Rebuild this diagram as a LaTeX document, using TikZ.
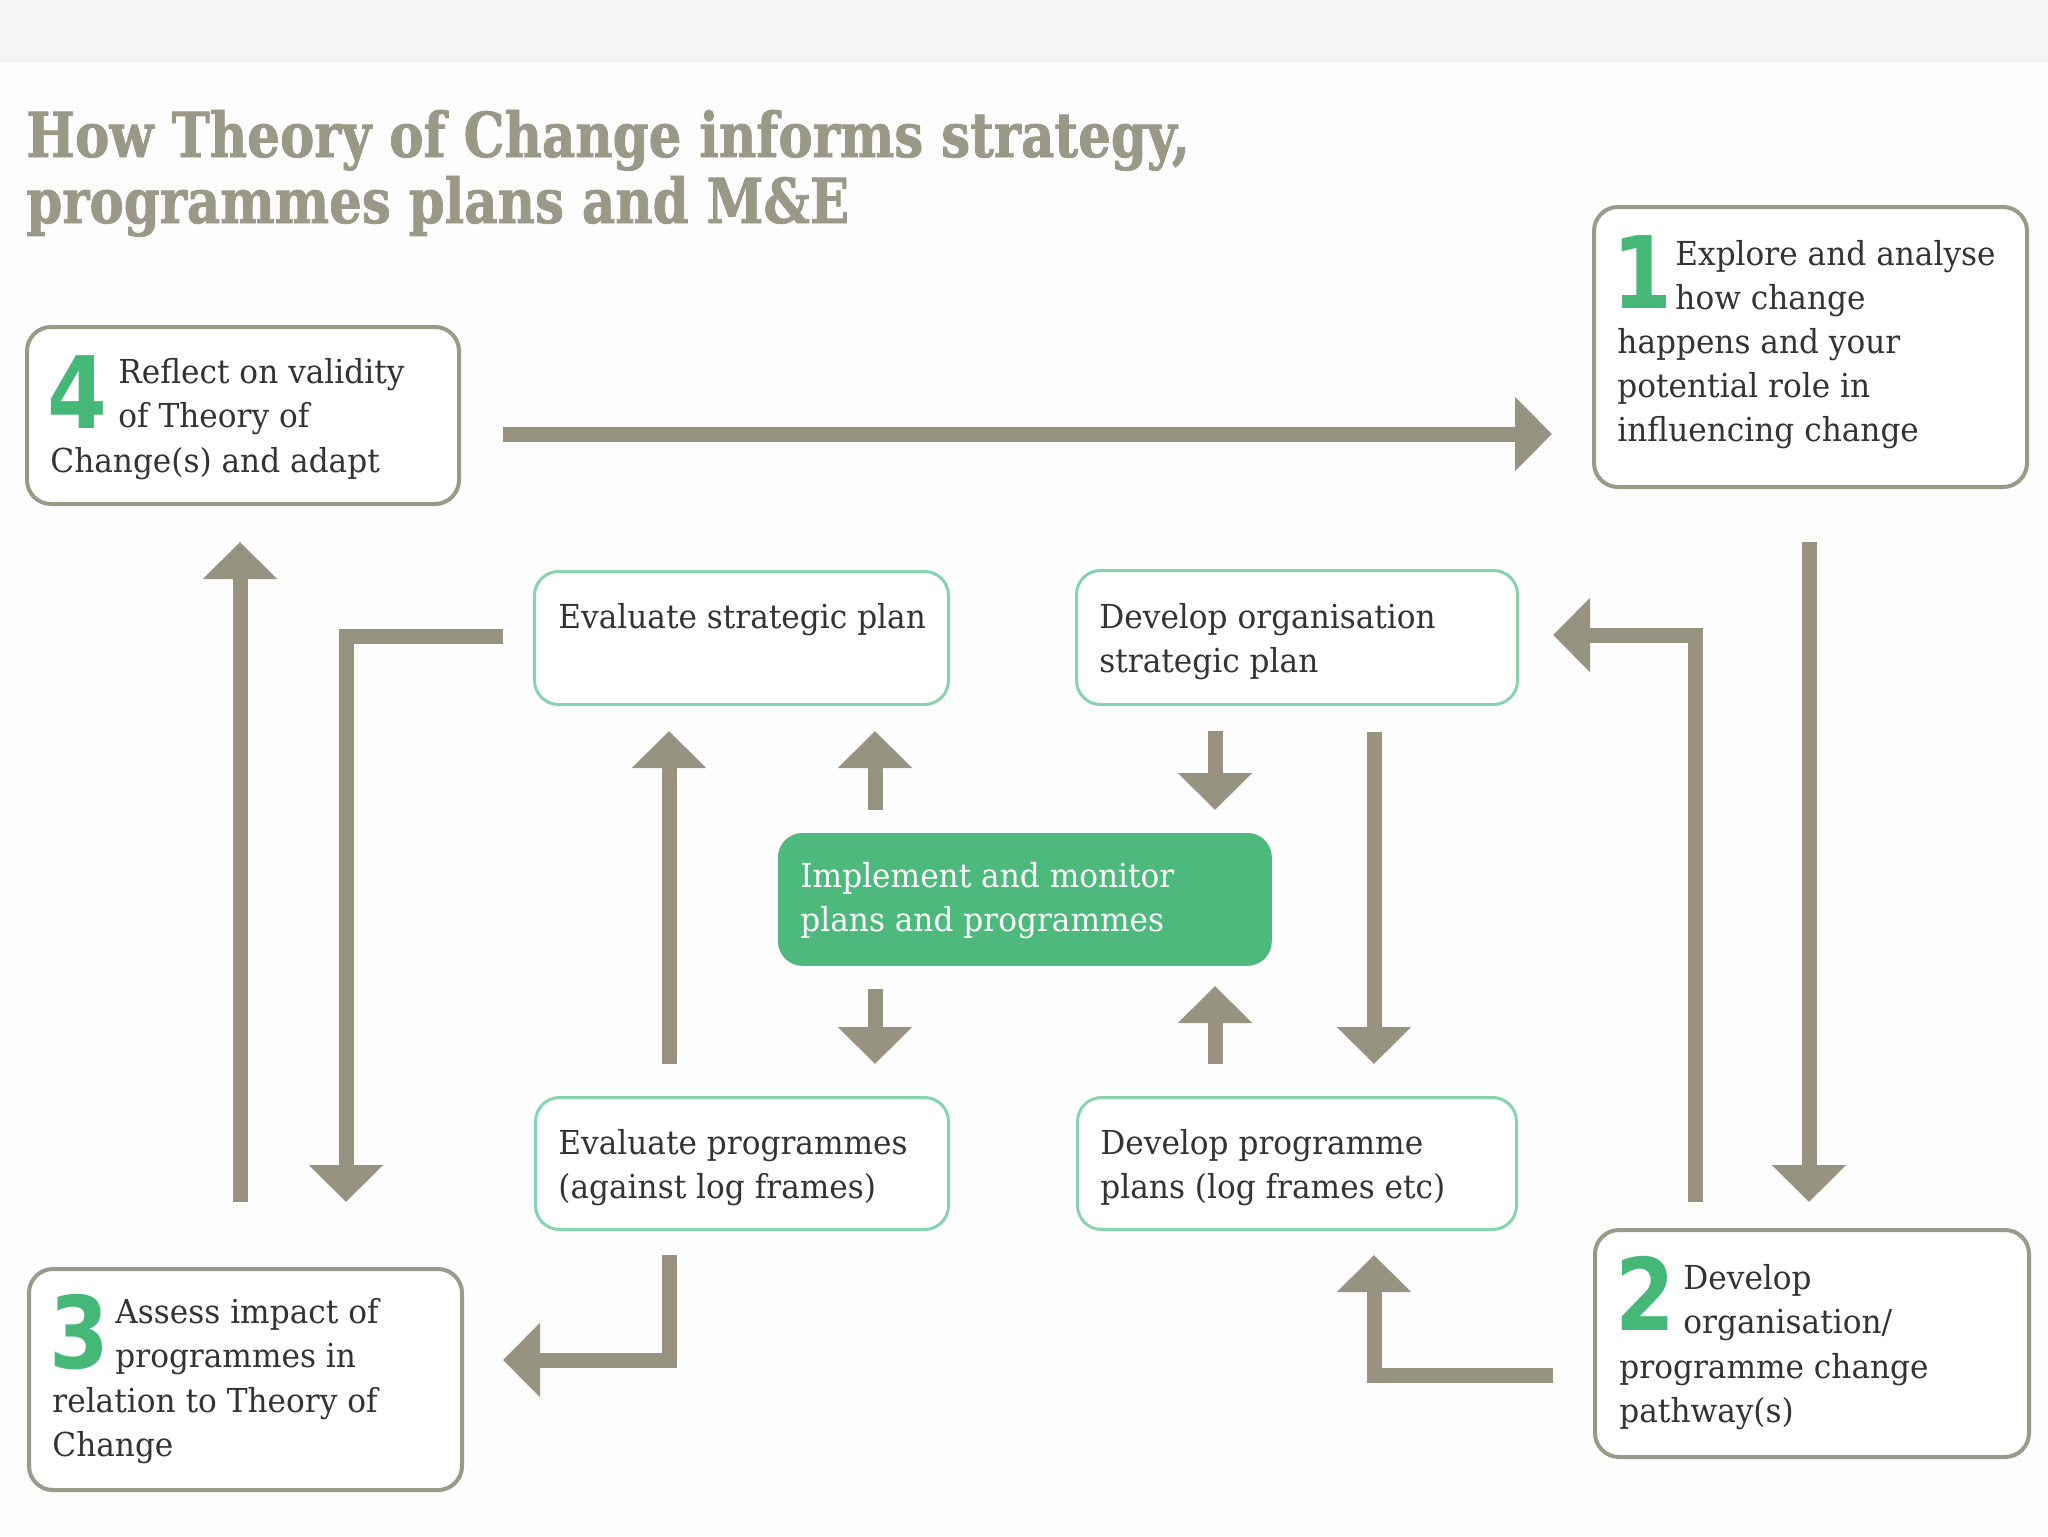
\documentclass[tikz,border=0pt]{standalone}
\usepackage{fontspec}
\setmainfont{DejaVu Serif}[FakeStretch=0.945]
\newfontfamily\titlefont{DejaVu Serif}[FakeStretch=0.83, FakeBold=1.2]
\newfontfamily\digitfont{DejaVu Sans}[FakeStretch=0.86]
\usetikzlibrary{arrows.meta}
\definecolor{arrowc}{HTML}{969380}
\definecolor{titlec}{HTML}{9A9886}
\definecolor{cornerc}{HTML}{9A9A88}
\definecolor{midc}{HTML}{86D3AE}
\definecolor{greenfill}{HTML}{4DB97C}
\definecolor{digitc}{HTML}{45B878}
\definecolor{textc}{HTML}{333333}
\definecolor{topc}{HTML}{F5F5F5}
\definecolor{bgc}{HTML}{FDFDFD}
\newcommand{\mylines}[1]{\begin{tabular}[t]{@{}l@{}}#1\end{tabular}}
\tikzset{
  corner/.style={draw=cornerc, line width=2pt, rounded corners=12pt, fill=white, inner sep=0pt, anchor=north west},
  mid/.style={draw=midc, line width=1.5pt, rounded corners=12pt, fill=white, inner sep=0pt, anchor=north west},
  midgreen/.style={draw=greenfill, fill=greenfill, rounded corners=12pt, inner sep=0pt, anchor=north west},
  body/.style={anchor=base west, inner sep=0pt, font=\fontsize{16.5}{22}\selectfont, text=textc},
  digit/.style={anchor=base west, inner sep=0pt, font=\digitfont\bfseries\fontsize{50}{50}\selectfont, text=digitc},
  flow/.style={draw=arrowc, line width=7.5pt, -{Triangle[length=18.5pt,width=36pt]}, line join=miter},
}
\begin{document}
\begin{tikzpicture}[x=0.5pt,y=-0.5pt]
\useasboundingbox (0,0) rectangle (2048,1536);
\fill[bgc] (0,0) rectangle (2048,1536);
\fill[topc] (0,0) rectangle (2048,63);

% title
\node[anchor=base west, inner sep=0pt, font=\titlefont\bfseries\fontsize{31}{31.5}\selectfont, text=titlec] (title) at (26,157) {\mylines{How Theory of Change informs strategy,\\programmes plans and M\&E}};

% corner boxes
\node[corner, minimum width=216pt, minimum height=88.5pt] (b4) at (25,325) {};
\node[digit] (d4) at (47,428) {4};
\node[body] (t4) at (118,383) {\mylines{Reflect on validity\\of Theory of}};
\node[body] (t4b) at (50,472) {Change(s) and adapt};

\node[corner, minimum width=216.5pt, minimum height=140pt] (b1) at (1592,205) {};
\node[digit] (d1) at (1612,308) {1};
\node[body] (t1) at (1675,265) {\mylines{Explore and analyse\\how change}};
\node[body] (t1b) at (1617,353) {\mylines{happens and your\\potential role in\\influencing change}};

\node[corner, minimum width=217pt, minimum height=113.5pt] (b2) at (1593,1228) {};
\node[digit] (d2) at (1615,1330) {2};
\node[body] (t2) at (1683,1289) {\mylines{Develop\\organisation/}};
\node[body] (t2b) at (1619,1378) {\mylines{programme change\\pathway(s)}};

\node[corner, minimum width=216.5pt, minimum height=110.5pt] (b3) at (27,1267) {};
\node[digit] (d3) at (49,1368) {3};
\node[body] (t3) at (115,1323) {\mylines{Assess impact of\\programmes in}};
\node[body] (t3b) at (52,1412) {\mylines{relation to Theory of\\Change}};

% middle boxes
\node[mid, minimum width=207pt, minimum height=66.5pt] (es) at (533,570) {};
\node[body] (tes) at (558,628) {Evaluate strategic plan};

\node[mid, minimum width=220.5pt, minimum height=67pt] (do) at (1075,569) {};
\node[body] (tdo) at (1099,628) {\mylines{Develop organisation\\strategic plan}};

\node[midgreen, minimum width=246.5pt, minimum height=66pt] (im) at (778,833) {};
\node[body, text=white] (tim) at (800,887) {\mylines{Implement and monitor\\plans and programmes}};

\node[mid, minimum width=206.5pt, minimum height=66pt] (ep) at (534,1096) {};
\node[body] (tep) at (558,1154) {\mylines{Evaluate programmes\\(against log frames)}};

\node[mid, minimum width=219.5pt, minimum height=66pt] (dp) at (1076,1096) {};
\node[body] (tdp) at (1100,1154) {\mylines{Develop programme\\plans (log frames etc)}};

% connector end points
\coordinate (a1s) at (503,434);   \coordinate (a1e) at (1552,434);
\coordinate (a2s) at (1809,542);  \coordinate (a2e) at (1809,1202);
\coordinate (a3s) at (1695,1202); \coordinate (a3m) at (1695,635); \coordinate (a3e) at (1553,635);
\coordinate (a4s) at (1553,1375); \coordinate (a4m) at (1374,1375); \coordinate (a4e) at (1374,1255);
\coordinate (a5s) at (1215,731);  \coordinate (a5e) at (1215,810);
\coordinate (a6s) at (1374,732);  \coordinate (a6e) at (1374,1064);
\coordinate (a7s) at (1215,1064); \coordinate (a7e) at (1215,986);
\coordinate (a8s) at (875,989);   \coordinate (a8e) at (875,1064);
\coordinate (a9s) at (875,810);   \coordinate (a9e) at (875,731);
\coordinate (a10s) at (669,1064); \coordinate (a10e) at (669,731);
\coordinate (a11s) at (669,1255); \coordinate (a11m) at (669,1360); \coordinate (a11e) at (503,1360);
\coordinate (a12s) at (503,636);  \coordinate (a12m) at (346,636);  \coordinate (a12e) at (346,1202);
\coordinate (a13s) at (240,1202); \coordinate (a13e) at (240,542);

\draw[flow] (a1s) -- (a1e);
\draw[flow] (a2s) -- (a2e);
\draw[flow] (a3s) -- (a3m) -- (a3e);
\draw[flow] (a4s) -- (a4m) -- (a4e);
\draw[flow] (a5s) -- (a5e);
\draw[flow] (a6s) -- (a6e);
\draw[flow] (a7s) -- (a7e);
\draw[flow] (a8s) -- (a8e);
\draw[flow] (a9s) -- (a9e);
\draw[flow] (a10s) -- (a10e);
\draw[flow] (a11s) -- (a11m) -- (a11e);
\draw[flow] (a12s) -- (a12m) -- (a12e);
\draw[flow] (a13s) -- (a13e);
\end{tikzpicture}
\end{document}
